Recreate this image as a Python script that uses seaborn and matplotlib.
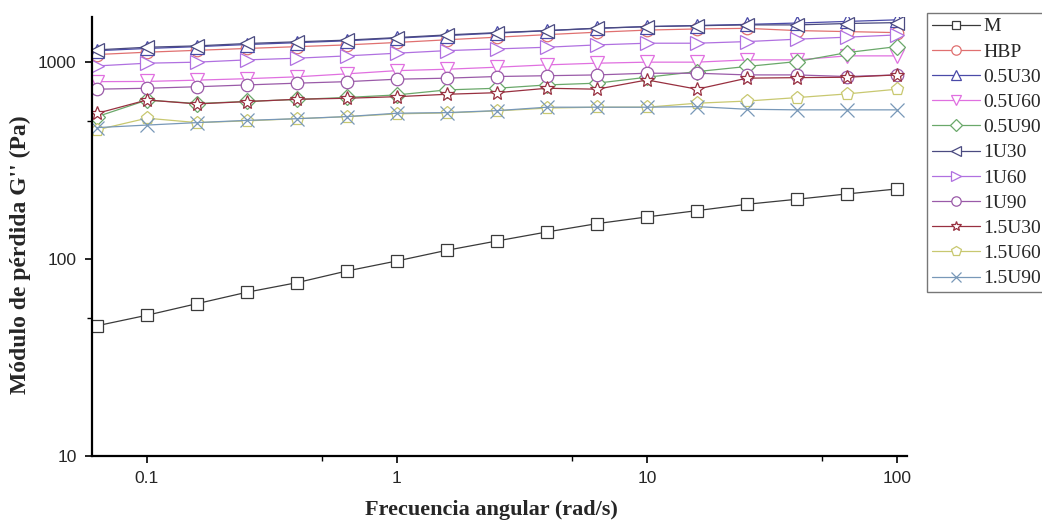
import matplotlib
matplotlib.use("Agg")
import matplotlib.pyplot as plt
import matplotlib.ticker as mticker
import seaborn as sns
import numpy as np
import pandas as pd

# angular frequency, 17 points from 10^-1.2 to 10^2 (rad/s)
freq = [0.0631, 0.1, 0.1585, 0.2512, 0.3981, 0.631, 1.0, 1.585, 2.512,
        3.981, 6.31, 10.0, 15.85, 25.12, 39.81, 63.1, 100.0]

names = ["M", "HBP", "0.5U30", "0.5U60", "0.5U90", "1U30", "1U60", "1U90",
         "1.5U30", "1.5U60", "1.5U90"]

M = [45.8, 51.8, 59.3, 67.8, 75.8, 86.9, 97.7, 110.7, 123.4, 137.1, 151.1,
     163.4, 175.9, 189.5, 200.9, 213.8, 226.6]
HBP = [1090, 1120, 1145, 1170, 1195, 1220, 1255, 1295, 1335, 1375, 1415,
       1450, 1470, 1480, 1442, 1425, 1408]
U05_30 = [1140, 1170, 1195, 1225, 1252, 1280, 1320, 1360, 1400, 1440, 1480,
          1510, 1530, 1550, 1575, 1605, 1635]
U05_60 = [794, 796, 808, 822, 840, 870, 903, 918, 940, 966, 985, 997, 997,
          1024, 1024, 1073, 1073]
U05_90 = [527, 640, 615, 630, 645, 660, 680, 721, 735, 764, 780, 836, 893,
          948, 1004, 1115, 1196]
U1_30 = [1151, 1187, 1206, 1240, 1265, 1290, 1329, 1371, 1408, 1442, 1483,
         1511, 1526, 1541, 1541, 1566, 1583]
U1_60 = [954, 985, 997, 1024, 1044, 1073, 1107, 1141, 1164, 1187, 1220, 1244,
         1244, 1268, 1304, 1335, 1371]
U1_90 = [727, 735, 748, 764, 780, 794, 817, 827, 843, 851, 859, 876, 876,
         859, 859, 843, 859]
U15_30 = [548, 641, 612, 629, 646, 654, 666, 685, 698, 735, 727, 810, 727,
          827, 832, 836, 859]
U15_60 = [452, 518, 492, 502, 515, 527, 545, 551, 564, 583, 589, 589, 617,
          633, 659, 688, 727]
U15_90 = [464, 478, 492, 505, 515, 528, 549, 553, 566, 589, 589, 589, 593,
          575, 571, 571, 571]

series = [M, HBP, U05_30, U05_60, U05_90, U1_30, U1_60, U1_90,
          U15_30, U15_60, U15_90]
colors = ["#3a3a3a", "#e07070", "#4a4aa8", "#e070e0", "#6aa86a", "#4a4a80",
          "#b070e0", "#9a5aa8", "#983040", "#c8c870", "#7898b8"]
markers = ["s", "o", "^", "v", "D", "<", ">", "o", "*", "p", "x"]
msizes = [8.5, 9, 10, 10, 8, 10, 10, 9, 10, 9.5, 10]

sns.set_style("ticks")
plt.rcParams["font.family"] = ["Liberation Serif", "DejaVu Serif"]

fig = plt.figure(figsize=(10.42, 5.25), dpi=100)
ax = fig.add_axes([92 / 1042, 1 - 456 / 525, (907 - 92) / 1042, (456 - 17) / 525])

for name, vals, c, m, ms in zip(names, series, colors, markers, msizes):
    sns.lineplot(x=freq, y=vals, ax=ax, color=c, marker=m, markersize=ms,
                 markerfacecolor="white", markeredgecolor=c, markeredgewidth=0.9,
                 linewidth=0.9, label=name, legend=False)

ax.set_xscale("log")
ax.set_yscale("log")
ax.set_xlim(0.0603, 109.6)
ax.set_ylim(10, 1690)

fmt = mticker.FuncFormatter(lambda v, _: f"{v:g}")
ax.xaxis.set_major_locator(mticker.FixedLocator([0.1, 1, 10, 100]))
ax.xaxis.set_minor_locator(mticker.FixedLocator([0.5, 5, 50]))
ax.yaxis.set_major_locator(mticker.FixedLocator([10, 100, 1000]))
ax.yaxis.set_minor_locator(mticker.FixedLocator([50, 500]))
ax.xaxis.set_major_formatter(fmt)
ax.yaxis.set_major_formatter(fmt)
ax.xaxis.set_minor_formatter(mticker.NullFormatter())
ax.yaxis.set_minor_formatter(mticker.NullFormatter())

for lab in ax.get_xticklabels() + ax.get_yticklabels():
    lab.set_family("Liberation Sans")
    lab.set_fontsize(12.5)
ax.tick_params(which="major", direction="out", length=5, width=1.2,
               color="black", pad=6)
ax.tick_params(which="minor", direction="out", length=3.5, width=1.0,
               color="black")

sns.despine(ax=ax)
for s in ["left", "bottom"]:
    ax.spines[s].set_linewidth(1.6)
    ax.spines[s].set_color("black")

ax.set_xlabel("Frecuencia angular (rad/s)", fontsize=16, fontweight="bold")
ax.set_ylabel("Módulo de pérdida G'' (Pa)", fontsize=17, fontweight="bold")
ax.xaxis.label.set_va("center")
ax.yaxis.label.set_va("center")
ax.xaxis.set_label_coords(0.49, -0.123)
ax.yaxis.set_label_coords(-0.088, 0.458)

leg = ax.legend(loc="upper left", bbox_to_anchor=(927 / 1042, 1 - 13 / 525),
                bbox_transform=fig.transFigure, frameon=True, fancybox=False,
                fontsize=14, handlelength=2.5, handletextpad=0.15,
                borderpad=0.25, labelspacing=0.39, markerscale=0.75,
                borderaxespad=0)
leg.get_frame().set_edgecolor("#555555")
leg.get_frame().set_linewidth(1.0)

fig.savefig("out.png", dpi=100)
